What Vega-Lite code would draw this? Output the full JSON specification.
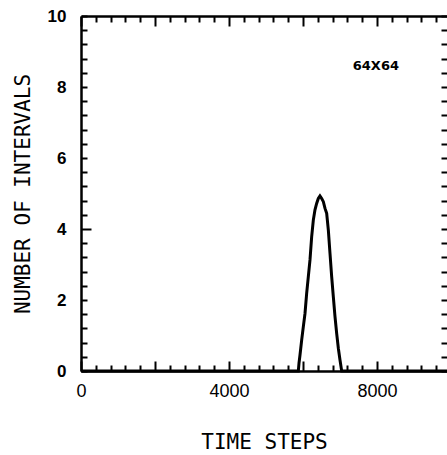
{
  "$schema": "https://vega.github.io/schema/vega-lite/v6.json",
  "autosize": "none",
  "padding": {"left": 81, "top": 16, "right": 0, "bottom": 84},
  "width": 366,
  "height": 355,
  "background": "white",
  "config": {"view": {"stroke": null}, "axis": {"grid": false}},
  "data": {"values": [
    {"t": 0, "v": 0}, {"t": 5800, "v": 0}, {"t": 5874, "v": 0},
    {"t": 5892, "v": 0.22}, {"t": 5919, "v": 0.45}, {"t": 5964, "v": 0.87},
    {"t": 6009, "v": 1.25}, {"t": 6054, "v": 1.62}, {"t": 6099, "v": 2.19},
    {"t": 6144, "v": 2.66}, {"t": 6189, "v": 3.13}, {"t": 6234, "v": 3.78},
    {"t": 6279, "v": 4.25}, {"t": 6324, "v": 4.54}, {"t": 6369, "v": 4.72},
    {"t": 6414, "v": 4.86}, {"t": 6459, "v": 4.93}, {"t": 6505, "v": 4.86},
    {"t": 6550, "v": 4.77}, {"t": 6595, "v": 4.58}, {"t": 6640, "v": 4.44},
    {"t": 6685, "v": 3.97}, {"t": 6730, "v": 3.31}, {"t": 6775, "v": 2.66},
    {"t": 6820, "v": 2.09}, {"t": 6865, "v": 1.53}, {"t": 6910, "v": 1.06},
    {"t": 6955, "v": 0.64}, {"t": 7000, "v": 0.31}, {"t": 7045, "v": 0},
    {"t": 9892, "v": 0}
  ]},
  "layer": [
    {
      "mark": {"type": "line", "color": "black", "strokeWidth": 3},
      "encoding": {
        "x": {
          "field": "t", "type": "quantitative",
          "scale": {"domain": [0, 9892], "nice": false, "zero": false},
          "axis": {
            "orient": "bottom",
            "values": [0,400,800,1200,1600,2000,2400,2800,3200,3600,4000,4400,4800,5200,5600,6000,6400,6800,7200,7600,8000,8400,8800,9200,9600],
            "format": "d",
            "labelExpr": "datum.value % 4000 === 0 ? datum.label : ''",
            "labelOverlap": false, "labelFlush": false,
            "tickSize": {"condition": {"test": "datum.value % 2000 === 0", "value": -10}, "value": -6},
            "tickWidth": 2, "tickColor": "black",
            "domainWidth": 2.5, "domainColor": "black",
            "labelFont": "Liberation Sans", "labelFontSize": 18, "labelColor": "black",
            "labelPadding": 21,
            "title": "TIME  STEPS",
            "titleFont": "DejaVu Sans Mono", "titleFontSize": 21, "titleFontWeight": "normal",
            "titleColor": "black", "titlePadding": 27
          }
        },
        "y": {
          "field": "v", "type": "quantitative",
          "scale": {"domain": [0, 10], "nice": false},
          "axis": {
            "orient": "left",
            "values": [0,0.4,0.8,1.2,1.6,2,2.4,2.8,3.2,3.6,4,4.4,4.8,5.2,5.6,6,6.4,6.8,7.2,7.6,8,8.4,8.8,9.2,9.6,10],
            "labelExpr": "datum.value % 2 === 0 ? toString(datum.value) : ''",
            "labelOverlap": false, "labelFlush": false,
            "tickSize": {"condition": {"test": "datum.value === 4", "value": -10}, "value": -6},
            "labelPadding": {"condition": {"test": "datum.value === 4", "value": 25}, "value": 21},
            "tickWidth": 2, "tickColor": "black",
            "domainWidth": 2.5, "domainColor": "black",
            "labelFont": "Liberation Sans", "labelFontSize": 17, "labelFontWeight": "bold", "labelColor": "black",
            "title": "NUMBER  OF  INTERVALS",
            "titleFont": "DejaVu Sans Mono", "titleFontSize": 21, "titleFontWeight": "normal",
            "titleColor": "black", "titlePadding": 14
          }
        }
      }
    },
    {
      "mark": {"type": "line", "strokeOpacity": 0},
      "encoding": {
        "x": {
          "field": "t", "type": "quantitative",
          "axis": {
            "orient": "top",
            "values": [0,400,800,1200,1600,2000,2400,2800,3200,3600,4000,4400,4800,5200,5600,6000,6400,6800,7200,7600,8000,8400,8800,9200,9600],
            "labels": false, "title": null,
            "tickSize": {"condition": {"test": "datum.value % 2000 === 0", "value": -10}, "value": -6},
            "tickWidth": 2, "tickColor": "black",
            "domainWidth": 2.5, "domainColor": "black"
          }
        },
        "y": {
          "field": "v", "type": "quantitative",
          "axis": {
            "orient": "right",
            "values": [0,0.4,0.8,1.2,1.6,2,2.4,2.8,3.2,3.6,4,4.4,4.8,5.2,5.6,6,6.4,6.8,7.2,7.6,8,8.4,8.8,9.2,9.6,10],
            "labels": false, "title": null, "domain": false,
            "tickSize": -6, "tickWidth": 2, "tickColor": "black"
          }
        }
      }
    },
    {
      "data": {"values": [{"t": 7970, "v": 8.6, "label": "64X64"}]},
      "mark": {"type": "text", "font": "DejaVu Sans", "fontWeight": "bold", "fontSize": 13, "color": "black"},
      "encoding": {
        "x": {"field": "t", "type": "quantitative", "axis": null},
        "y": {"field": "v", "type": "quantitative", "axis": null},
        "text": {"field": "label"}
      }
    }
  ],
  "resolve": {"axis": {"x": "independent", "y": "independent"}}
}
